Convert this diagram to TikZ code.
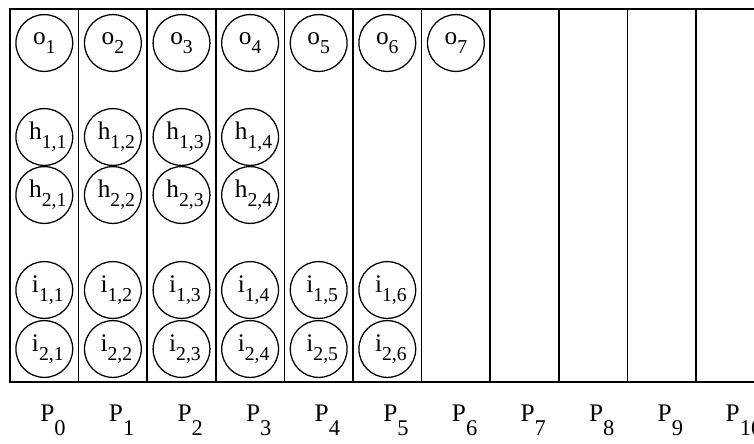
\documentclass[tikz,border=0pt]{standalone}
\usepackage{fontspec}
\setmainfont{Liberation Serif}
\usetikzlibrary{positioning}

% letter with a lowered index
\newcommand{\idx}[2]{#1\raisebox{-0.35em}{\fontsize{14}{14}\selectfont #2}}
\newcommand{\plab}[1]{P\raisebox{-0.55em}{\fontsize{16}{16}\selectfont #1}}

\begin{document}
\begin{tikzpicture}[x=0.025cm, y=-0.025cm]
\tikzset{
  proc/.style={circle, draw, line width=0.9pt, minimum size=1.42cm, inner sep=0pt,
    font=\fontsize{18}{18}\selectfont},
  col/.style={line width=1.2pt},
  plabel/.style={font=\fontsize{18}{18}\selectfont}
}
\def\yo{43}
\def\yha{137}
\def\yhb{195}
\def\yia{290}
\def\yib{349}

\useasboundingbox (0,0) rectangle (754,443);

% frame and columns
\coordinate (TL) at (10,9);
\coordinate (BR) at (765,382);
\draw[col] (TL) rectangle (BR);
\draw[col] (78.6,9) -- (78.6,382);
\draw[col] (147.2,9) -- (147.2,382);
\draw[col] (215.8,9) -- (215.8,382);
\draw[col] (284.4,9) -- (284.4,382);
\draw[col] (353,9) -- (353,382);
\draw[col] (421.6,9) -- (421.6,382);
\draw[col] (490.2,9) -- (490.2,382);
\draw[col] (558.8,9) -- (558.8,382);
\draw[col] (627.4,9) -- (627.4,382);
\draw[col] (696,9) -- (696,382);

% output row
\node[proc] (o1) at (44.3,\yo) {\idx{o}{1}};
\node[proc] (o2) at (112.9,\yo) {\idx{o}{2}};
\node[proc] (o3) at (181.5,\yo) {\idx{o}{3}};
\node[proc] (o4) at (250.1,\yo) {\idx{o}{4}};
\node[proc] (o5) at (318.7,\yo) {\idx{o}{5}};
\node[proc] (o6) at (387.3,\yo) {\idx{o}{6}};
\node[proc] (o7) at (455.9,\yo) {\idx{o}{7}};

% hidden rows
\node[proc] (h11) at (44.3,\yha) {\hspace{5pt}\idx{h}{1,1}};
\node[proc] (h12) at (112.9,\yha) {\hspace{5pt}\idx{h}{1,2}};
\node[proc] (h13) at (181.5,\yha) {\hspace{5pt}\idx{h}{1,3}};
\node[proc] (h14) at (250.1,\yha) {\hspace{5pt}\idx{h}{1,4}};
\node[proc] (h21) at (44.3,\yhb) {\hspace{5pt}\idx{h}{2,1}};
\node[proc] (h22) at (112.9,\yhb) {\hspace{5pt}\idx{h}{2,2}};
\node[proc] (h23) at (181.5,\yhb) {\hspace{5pt}\idx{h}{2,3}};
\node[proc] (h24) at (250.1,\yhb) {\hspace{5pt}\idx{h}{2,4}};

% input rows
\node[proc] (i11) at (44.3,\yia) {\hspace{5pt}\idx{i}{1,1}};
\node[proc] (i12) at (112.9,\yia) {\hspace{5pt}\idx{i}{1,2}};
\node[proc] (i13) at (181.5,\yia) {\hspace{5pt}\idx{i}{1,3}};
\node[proc] (i14) at (250.1,\yia) {\hspace{5pt}\idx{i}{1,4}};
\node[proc] (i15) at (318.7,\yia) {\hspace{5pt}\idx{i}{1,5}};
\node[proc] (i16) at (387.3,\yia) {\hspace{5pt}\idx{i}{1,6}};
\node[proc] (i21) at (44.3,\yib) {\hspace{5pt}\idx{i}{2,1}};
\node[proc] (i22) at (112.9,\yib) {\hspace{5pt}\idx{i}{2,2}};
\node[proc] (i23) at (181.5,\yib) {\hspace{5pt}\idx{i}{2,3}};
\node[proc] (i24) at (250.1,\yib) {\hspace{5pt}\idx{i}{2,4}};
\node[proc] (i25) at (318.7,\yib) {\hspace{5pt}\idx{i}{2,5}};
\node[proc] (i26) at (387.3,\yib) {\hspace{5pt}\idx{i}{2,6}};

% processor labels
\node[plabel] (p0) at (53,420) {\plab{0}};
\node[plabel] (p1) at (121.6,420) {\plab{1}};
\node[plabel] (p2) at (190.2,420) {\plab{2}};
\node[plabel] (p3) at (258.8,420) {\plab{3}};
\node[plabel] (p4) at (327.4,420) {\plab{4}};
\node[plabel] (p5) at (396,420) {\plab{5}};
\node[plabel] (p6) at (464.6,420) {\plab{6}};
\node[plabel] (p7) at (533.2,420) {\plab{7}};
\node[plabel] (p8) at (601.8,420) {\plab{8}};
\node[plabel] (p9) at (670.4,420) {\plab{9}};
\node[plabel] (p10) at (744,420) {\plab{10}};
\end{tikzpicture}
\end{document}
